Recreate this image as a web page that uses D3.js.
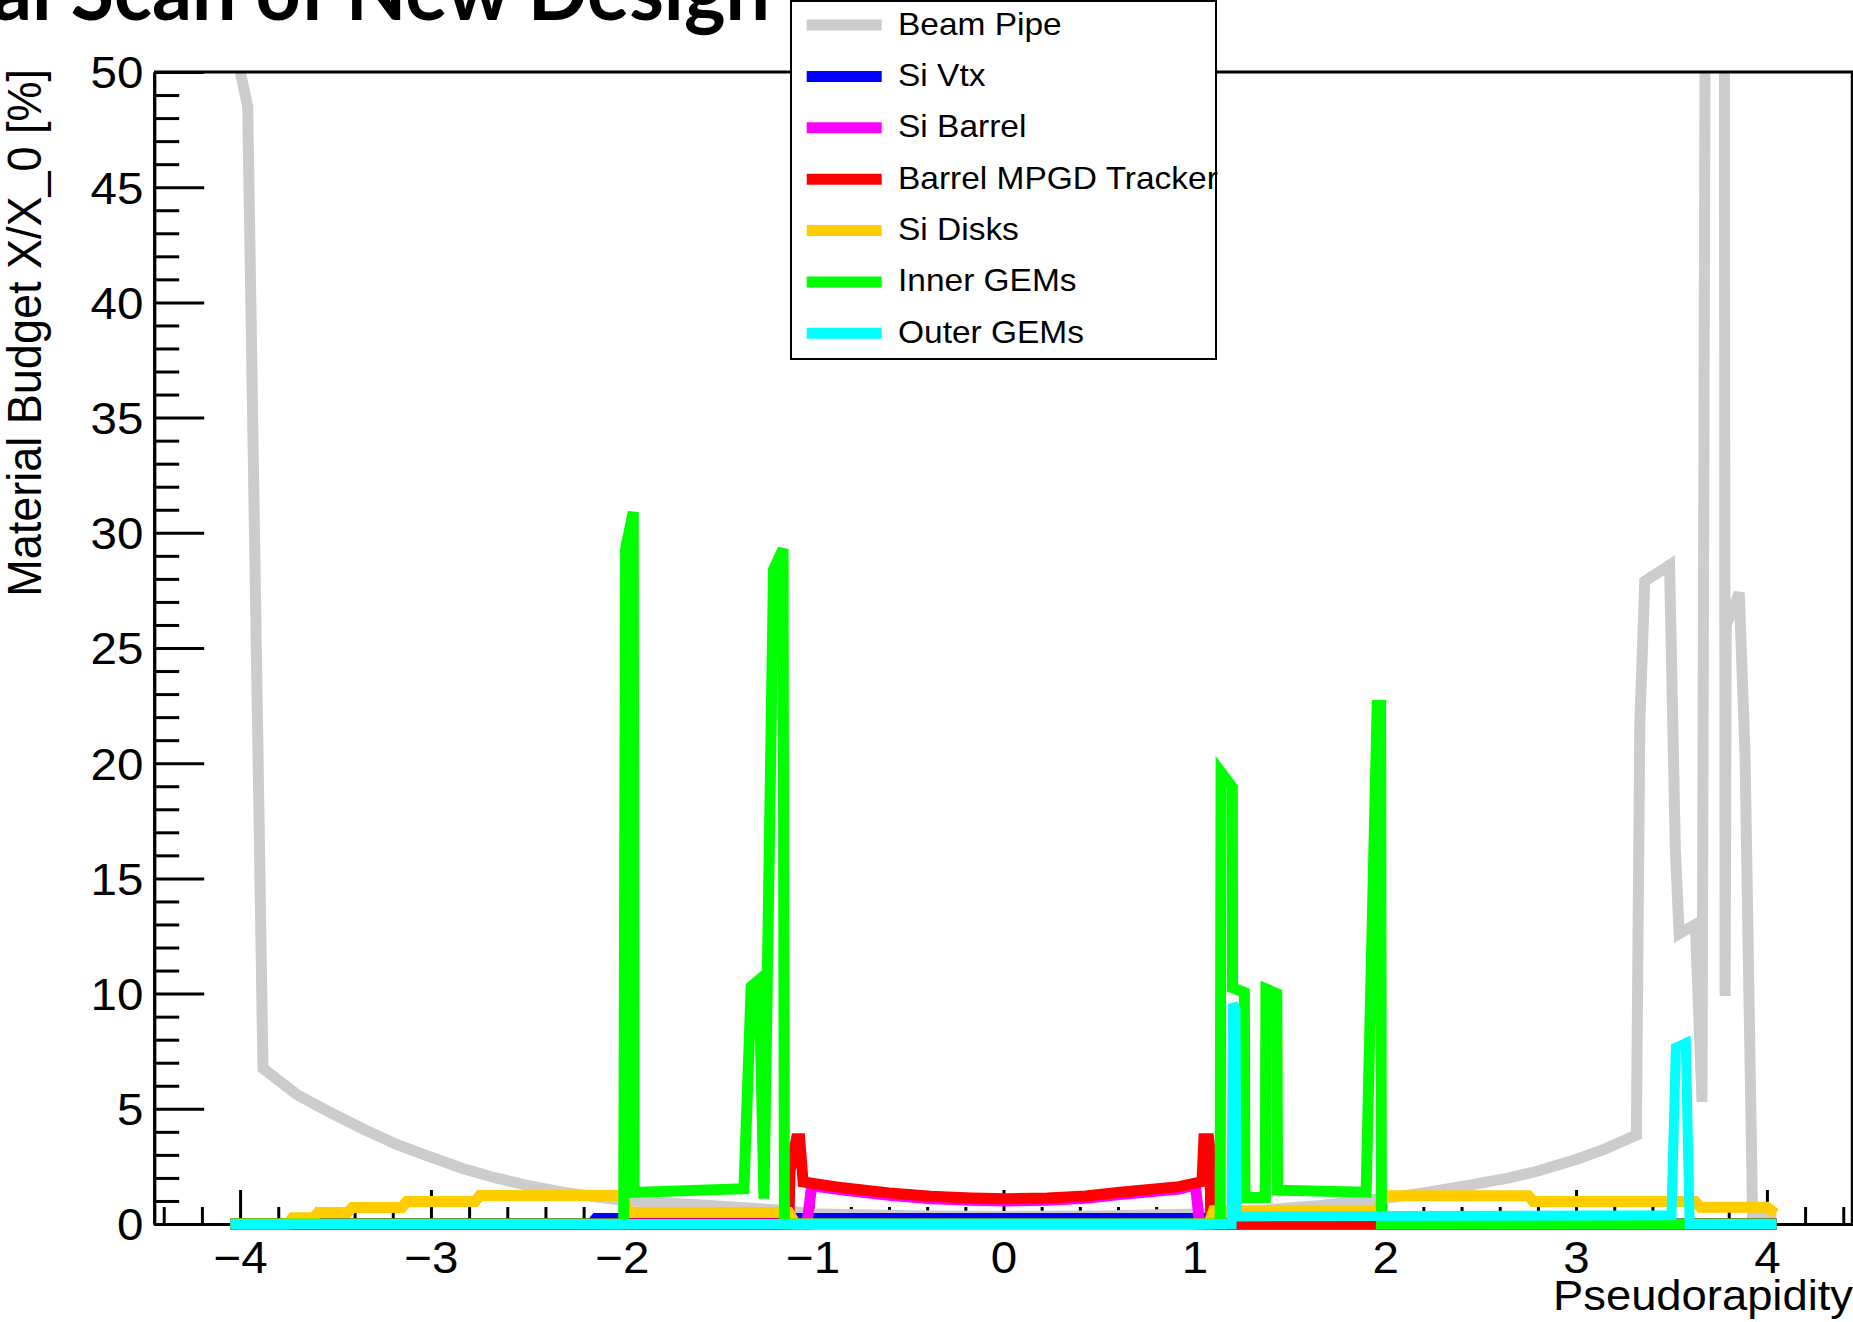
<!DOCTYPE html>
<html>
<head>
<meta charset="utf-8">
<script src="https://cdn.jsdelivr.net/npm/d3@7"></script>
<style>
  html, body { margin: 0; padding: 0; background: #fff; }
  svg { display: block; }
</style>
</head>
<body>
<svg id="chart" width="1853" height="1322"></svg>
<script>
// ---------------- data (pseudorapidity, material budget X/X0 in %) ----------------
const seriesNames  = ["Beam Pipe", "Si Vtx", "Si Barrel", "Barrel MPGD Tracker", "Si Disks", "Inner GEMs", "Outer GEMs"];
const seriesColors = ["#cccccc", "#0000ff", "#ff00ff", "#ff0000", "#ffcc00", "#00ff00", "#00ffff"];

const beamPipe = [
  [-4.05, 52], [-3.96, 48.5], [-3.88, 6.75], [-3.70, 5.6], [-3.53, 4.85], [-3.35, 4.1], [-3.18, 3.45],
  [-3.0, 2.9], [-2.83, 2.4], [-2.66, 2.0], [-2.48, 1.65], [-2.31, 1.38], [-2.13, 1.17], [-1.955, 1.0],
  [-1.54, 0.8], [-1.17, 0.6], [-1.0, 0.45], [-0.5, 0.36], [0.0, 0.33], [0.5, 0.35], [1.0, 0.43],
  [1.24, 0.52], [1.66, 0.8], [1.83, 0.96], [2.0, 1.12], [2.2, 1.35], [2.45, 1.7], [2.65, 2.0],
  [2.8, 2.3], [3.0, 2.8], [3.15, 3.25], [3.316, 3.86], [3.334, 21.7], [3.36, 27.9], [3.49, 28.6],
  [3.52, 16.3], [3.54, 12.6], [3.625, 13.0], [3.66, 5.3], [3.686, 80], [3.775, 80], [3.781, 9.9],
  [3.787, 26.0], [3.855, 27.4], [3.885, 20.5], [3.925, 0.3], [4.05, 0.3]
];
const siVtx = [
  [-4.05, 0], [-2.16, 0], [-2.135, 0.24], [1.045, 0.24], [1.065, 0], [4.05, 0]
];
const siBarrel = [
  [-4.05, 0], [-1.03, 0], [-1.005, 1.66], [-0.84, 1.47], [-0.6, 1.25], [-0.38, 1.1], [-0.17, 1.03],
  [0.02, 1.0], [0.23, 1.03], [0.43, 1.12], [0.61, 1.28], [0.92, 1.52], [1.005, 1.7], [1.028, 0], [4.05, 0]
];
const barrelMPGD = [
  [-4.05, 0], [-1.125, 0], [-1.118, 2.3], [-1.085, 3.7], [-1.068, 3.7], [-1.05, 1.83], [-0.84, 1.57],
  [-0.6, 1.35], [-0.38, 1.2], [-0.17, 1.13], [0.02, 1.1], [0.23, 1.13], [0.43, 1.22], [0.61, 1.38],
  [0.92, 1.62], [1.04, 1.84], [1.05, 3.7], [1.075, 3.7], [1.082, 3.2], [1.086, 0], [4.05, 0]
];
const siDisks = [
  [-4.05, 0], [-3.75, 0], [-3.725, 0.27], [-3.615, 0.27], [-3.59, 0.5], [-3.437, 0.5], [-3.412, 0.72],
  [-3.152, 0.72], [-3.127, 0.98], [-2.768, 0.98], [-2.743, 1.24], [-2.0, 1.24], [-1.96, 0.5],
  [-1.125, 0.5], [-1.09, 0], [1.075, 0], [1.1, 0.58], [1.955, 0.58], [1.995, 1.23], [2.75, 1.23],
  [2.776, 0.98], [3.624, 0.98], [3.65, 0.73], [4.0, 0.73], [4.045, 0.45]
];
const innerGEMs = [
  [-4.05, 0], [-1.99, 0], [-1.98, 29.3], [-1.94, 30.9], [-1.935, 1.37], [-1.36, 1.53], [-1.322, 10.3],
  [-1.28, 10.6], [-1.255, 1.1], [-1.205, 28.4], [-1.155, 29.3], [-1.148, 0], [1.135, 0], [1.14, 19.6],
  [1.199, 18.95], [1.2, 10.25], [1.262, 10.05], [1.265, 1.15], [1.372, 1.15], [1.375, 10.2],
  [1.432, 10.0], [1.436, 1.47], [1.9, 1.38], [1.958, 22.5], [1.976, 22.5], [1.98, 0], [4.05, 0]
];
const outerGEMs = [
  [-4.05, 0], [1.195, 0], [1.202, 9.55], [1.215, 9.35], [1.222, 0.33], [3.5, 0.38], [3.523, 7.65],
  [3.575, 7.85], [3.595, 0], [4.05, 0]
];
const seriesData = [beamPipe, siVtx, siBarrel, barrelMPGD, siDisks, innerGEMs, outerGEMs];

const xMajorTicks = [-4, -3, -2, -1, 0, 1, 2, 3, 4];
const yMajorTicks = [0, 5, 10, 15, 20, 25, 30, 35, 40, 45, 50];
const xTitle = "Pseudorapidity";
const yTitle = "Material Budget X/X_0 [%]";
const slideTitle = "al Scan of New Design";

// ---------------- layout ----------------
const svg = d3.select("#chart");
const L = 154.2, R = 1852.8, T = 72, B = 1224;
const x = d3.scaleLinear().domain([-4.45, 4.45]).range([L, R]);
const y = d3.scaleLinear().domain([0, 50]).range([B, T]);
const FONT = "'Liberation Sans', Arial, Helvetica, sans-serif";
const SX = 1.08;

// slide title (cut by the top edge)
svg.append("text")
  .attr("x", -8).attr("y", 20)
  .attr("font-family", "Lato, 'Open Sans', sans-serif")
  .attr("font-weight", 700)
  .attr("font-size", 82)
  .attr("textLength", 778)
  .attr("lengthAdjust", "spacingAndGlyphs")
  .attr("fill", "#000")
  .text(slideTitle);

// ---------------- axes ----------------
const xMinor = d3.range(-44, 45, 2).map(v => v / 10).filter(v => !xMajorTicks.includes(v));
const yMinor = d3.range(0, 51, 1).filter(v => !yMajorTicks.includes(v));

const gx = svg.append("g").attr("transform", `translate(0,${B})`);
gx.append("g").call(d3.axisBottom(x).tickValues(xMinor).tickSize(-17).tickSizeOuter(0).tickFormat(""));
gx.append("g").call(d3.axisBottom(x).tickValues(xMajorTicks).tickSize(-34).tickSizeOuter(0).tickPadding(0));
gx.selectAll("text")
  .attr("y", 0).attr("dy", 0)
  .attr("font-family", FONT).attr("font-size", 44).attr("fill", "#000")
  .attr("transform", `translate(0,49) scale(${SX},1)`);

const gy = svg.append("g").attr("transform", `translate(${L},0)`);
gy.append("g").call(d3.axisLeft(y).tickValues(yMinor).tickSize(-25).tickSizeOuter(0).tickFormat(""));
gy.append("g").call(d3.axisLeft(y).tickValues(yMajorTicks).tickSize(-50).tickSizeOuter(0).tickPadding(10));
gy.selectAll("text")
  .attr("dy", "0.36em")
  .attr("font-family", FONT).attr("font-size", 44).attr("fill", "#000")
  .attr("transform", `scale(${SX},1)`);

svg.selectAll(".domain, .tick line").attr("stroke", "#000").attr("stroke-width", 3);

// axis titles
svg.append("text")
  .attr("transform", `translate(1853,1310) scale(${SX},1)`)
  .attr("text-anchor", "end")
  .attr("font-family", FONT).attr("font-size", 42).attr("fill", "#000")
  .text(xTitle);

svg.append("text")
  .attr("transform", `translate(41,69) scale(1.06,1) rotate(-90)`)
  .attr("text-anchor", "end")
  .attr("font-family", FONT).attr("font-size", 45).attr("fill", "#000")
  .text(yTitle);

// ---------------- data lines ----------------
svg.append("clipPath").attr("id", "plotclip")
  .append("rect").attr("x", L).attr("y", T).attr("width", 1853 - L).attr("height", 1240 - T);

const line = d3.line().x(d => x(d[0])).y(d => y(d[1]));
const gData = svg.append("g").attr("clip-path", "url(#plotclip)");
seriesData.forEach((s, i) => {
  gData.append("path")
    .attr("d", line(s))
    .attr("fill", "none")
    .attr("stroke", seriesColors[i])
    .attr("stroke-width", i === 6 ? 10 : 11)
    .attr("stroke-linejoin", "miter")
    .attr("stroke-miterlimit", 4);
});

// frame (top and right)
svg.append("path")
  .attr("d", `M${L},${T}H${R - 0.5}V${B}`)
  .attr("fill", "none").attr("stroke", "#000").attr("stroke-width", 3);

// ---------------- legend ----------------
const legX = 791, legY = 1, legW = 425, legH = 358;
const lg = svg.append("g");
lg.append("rect")
  .attr("x", legX).attr("y", legY).attr("width", legW).attr("height", legH)
  .attr("fill", "#fff").attr("stroke", "#000").attr("stroke-width", 2);
seriesNames.forEach((name, i) => {
  const cy = 25 + 51.38 * i;
  lg.append("line")
    .attr("x1", 806.7).attr("x2", 881.7).attr("y1", cy).attr("y2", cy)
    .attr("stroke", seriesColors[i]).attr("stroke-width", 11);
  lg.append("text")
    .attr("transform", `translate(898,${cy + 9.5}) scale(1.08,1)`)
    .attr("font-family", FONT).attr("font-size", 31).attr("fill", "#000")
    .text(name);
});
</script>
</body>
</html>
